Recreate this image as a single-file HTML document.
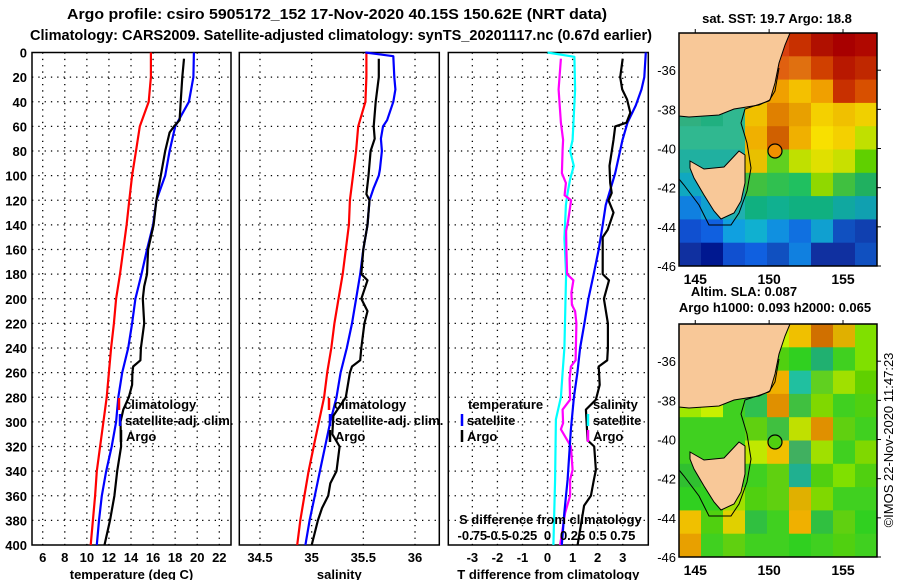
<!DOCTYPE html>
<html><head><meta charset="utf-8"><style>
html,body{margin:0;padding:0;background:#fff;}
svg{display:block;font-family:"Liberation Sans",sans-serif;font-weight:bold;}
</style></head><body>
<svg id="chart" width="900" height="580" viewBox="0 0 900 580" xmlns="http://www.w3.org/2000/svg">
<text x="67" y="19" font-size="14.5" textLength="540" lengthAdjust="spacingAndGlyphs">Argo profile: csiro 5905172_152 17-Nov-2020 40.15S 150.62E (NRT data)</text>
<text x="30" y="40" font-size="14.5" textLength="622" lengthAdjust="spacingAndGlyphs">Climatology: CARS2009. Satellite-adjusted climatology: synTS_20201117.nc (0.67d earlier)</text>
<g id="panels"></g>
<g id="maps"></g>
<text x="777" y="23" font-size="13" text-anchor="middle">sat. SST: 19.7 Argo: 18.8</text>
<text x="744" y="296" font-size="13" text-anchor="middle">Altim. SLA: 0.087</text>
<text x="775" y="312" font-size="13" text-anchor="middle">Argo h1000: 0.093 h2000: 0.065</text>
<text transform="translate(893,440) rotate(-90)" font-size="13" font-weight="normal" text-anchor="middle">©IMOS 22-Nov-2020 11:47:23</text>
</svg>
<script>
// ---- profile data (depth in m) ----
const tDepth = [0,20,40,60,80,100,120,140,160,180,200,220,240,260,280,300,320,340,360,380,400];
const tClim = [15.8,15.8,15.6,14.8,14.45,14.1,13.85,13.6,13.3,13.0,12.65,12.45,12.2,12.0,11.8,11.5,11.2,10.9,10.75,10.55,10.35];
const tSat = [19.7,19.65,19.25,18.0,17.5,17.1,16.3,16.0,15.45,14.95,14.4,14.1,13.75,13.2,12.85,12.65,12.25,11.75,11.35,11.1,10.9];
const argoTDepth = [5,20,40,55,60,65,80,100,120,140,160,180,190,200,220,240,250,255,260,270,280,290,300,320,340,360,380,400];
const tArgo = [18.8,18.65,18.5,18.4,17.9,17.5,17.1,16.7,16.3,16.05,15.55,15.45,15.2,15.07,15.2,14.9,14.85,14.2,14.13,14.1,13.8,13.3,13.05,13.1,12.75,12.5,12.1,11.6];
const sClim = [35.53,35.53,35.52,35.45,35.43,35.40,35.37,35.36,35.33,35.30,35.26,35.22,35.19,35.15,35.12,35.07,35.02,34.97,34.93,34.89,34.86];
const sSatDepth = [0,3,20,30,40,55,60,70,80,95,100,110,120,140,160,180,200,220,240,260,280,300,320,340,360,380,400];
const sSat = [35.52,35.79,35.80,35.81,35.79,35.73,35.69,35.67,35.68,35.66,35.65,35.60,35.56,35.54,35.50,35.47,35.43,35.39,35.34,35.28,35.24,35.18,35.13,35.08,35.03,34.98,34.94];
const argoSDepth = [5,20,40,60,70,80,100,115,120,140,160,180,185,200,210,220,240,250,255,260,280,295,310,320,340,350,360,370,380,400];
const sArgo = [35.65,35.65,35.62,35.60,35.61,35.57,35.55,35.53,35.56,35.54,35.50,35.48,35.54,35.48,35.54,35.51,35.48,35.47,35.39,35.37,35.33,35.21,35.2,35.27,35.24,35.18,35.16,35.1,35.06,35.0];
const dTSatDepth = [0,20,30,43,57,71,98,124,140,160,180,200,220,240,260,280,306,347,374,400];
const dTSat = [3.92,3.86,3.75,3.52,3.19,2.99,2.7,2.32,2.2,2.04,1.84,1.63,1.47,1.3,1.19,1.05,0.93,0.8,0.67,0.57];
const dTArgoDepth = [5,20,30,38,49,57,60,71,92,106,114,120,130,144,150,180,185,200,220,240,250,255,270,282,290,315,320,339,347,360,368,400];
const dTArgo = [3.0,2.9,2.98,3.17,3.3,3.15,2.7,2.63,2.47,2.5,2.56,2.43,2.63,2.4,2.2,2.2,2.45,2.25,2.41,2.41,2.38,2.04,2.08,1.93,1.53,1.6,1.86,1.93,1.85,1.73,1.46,1.2];
const dSSatDepth = [0,3.5,30,71,80,92,103,114,124,151,180,240,260,280,298,347,400];
const dSSat = [0,0.268,0.275,0.25,0.225,0.262,0.225,0.2,0.183,0.168,0.185,0.168,0.15,0.133,0.083,0.075,0.058];
const dSArgoDepth = [5,30,57,71,79,98,106,116,120,138,145,160,180,185,195,205,210,220,250,255,265,282,290,301,306,320,339,347,360,374,400];
const dSArgo = [0.133,0.11,0.133,0.155,0.15,0.143,0.183,0.17,0.235,0.203,0.185,0.188,0.195,0.258,0.238,0.243,0.275,0.288,0.28,0.233,0.22,0.225,0.15,0.155,0.133,0.233,0.25,0.225,0.225,0.175,0.125];
const depthTicks = [0,20,40,60,80,100,120,140,160,180,200,220,240,260,280,300,320,340,360,380,400];
const tTicks = [6,8,10,12,14,16,18,20,22];
const sTicks = [34.5,35,35.5,36];
const dTTicks = [-3,-2,-1,0,1,2,3];
const dSTicks = [-0.75,-0.5,-0.25,0,0.25,0.5,0.75];
const dSTickLabels = ["-0.75","-0.5","-0.25","0","0.25","0.5","0.75"];

const NS = "http://www.w3.org/2000/svg";
const Y0 = 52.5, Y1 = 545;
function yScale(d){ return Y0 + (d/400)*(Y1-Y0); }
function mk(tag, attrs, parent){ const e=document.createElementNS(NS,tag); for(const k in attrs) e.setAttribute(k,attrs[k]); parent.appendChild(e); return e; }
function xs(p){ return v => p.x0 + (v-p.min)/(p.max-p.min)*(p.x1-p.x0); }

const panels = document.getElementById('panels');
const P1 = {x0:32,x1:231,min:5.03,max:23.06,name:'temperature'};
const P2 = {x0:239.3,x1:439.3,min:34.3,max:36.235,name:'salinity'};
const P3 = {x0:448.3,x1:648.3,min:-3.96,max:4.02,name:'difference'};

function frame(p, ticks, labels, title){
  const g = mk('g',{},panels);
  
  
  const x = xs(p);
  depthTicks.forEach(d=>{
    if(d===0||d===400) return;
    const l = mk('line',{x1:p.x0,x2:p.x1,y1:yScale(d),y2:yScale(d),stroke:'#000','stroke-width':1.3,'stroke-dasharray':'1.3 5'},g);
    
    
  });
  ticks.forEach((t,i)=>{
    const l = mk('line',{x1:x(t),x2:x(t),y1:Y0,y2:Y1,stroke:'#000','stroke-width':1.3,'stroke-dasharray':'1.3 5'},g);
    
    
    const tx = mk('text',{x:x(t),y:562,'font-size':13,'text-anchor':'middle'},g);
    tx.textContent = labels[i];
    
    
  });
  const r = mk('rect',{x:p.x0,y:Y0,width:p.x1-p.x0,height:Y1-Y0,fill:'none',stroke:'#000','stroke-width':1.5},g);
  
  
  const tt = mk('text',{x:(p.x0+p.x1)/2,y:579,'font-size':13,'text-anchor':'middle'},g);
  tt.textContent = title;
  
  
  return g;
}
function series(p, g, depths, vals, color, name, scale){
  const x = xs(p);
  const pts = depths.map((d,i)=> x(vals[i]*(scale||1)).toFixed(1)+','+yScale(d).toFixed(1)).join(' ');
  const pl = mk('polyline',{points:pts,fill:'none',stroke:color,'stroke-width':2.2,'stroke-linejoin':'round'},g);
  
  
}
function legendItem(g, x, y, color, label, nm){
  if(color){
    const b = mk('line',{x1:x,x2:x,y1:y-11,y2:y+1,stroke:color,'stroke-width':2.5},g);
    
    
  }
  const t = mk('text',{x:x+5,y:y,'font-size':13},g);
  t.textContent = label;
  
  
}

// Panel 1
const g1 = frame(P1, tTicks, tTicks.map(String), 'temperature (deg C)');
depthTicks.forEach(d=>{
  const t = mk('text',{x:27,y:yScale(d)+5,'font-size':13,'text-anchor':'end'},g1);
  t.textContent = d;
  
  
});
series(P1,g1,tDepth,tClim,'#ff0000','temp-climatology-line');
series(P1,g1,tDepth,tSat,'#0000ff','temp-satellite-adj-line');
series(P1,g1,argoTDepth,tArgo,'#000000','temp-argo-line');
legendItem(g1,119,409,'#ff0000','climatology','legend-climatology');
legendItem(g1,120,425,'#0000ff','satellite-adj. clim.','legend-satellite-adj');
legendItem(g1,121,441,'#000000','Argo','legend-argo');

// Panel 2
const g2 = frame(P2, sTicks, sTicks.map(String), 'salinity');
series(P2,g2,tDepth,sClim,'#ff0000','sal-climatology-line');
series(P2,g2,sSatDepth,sSat,'#0000ff','sal-satellite-adj-line');
series(P2,g2,argoSDepth,sArgo,'#000000','sal-argo-line');
legendItem(g2,329,409,'#ff0000','climatology','legend-climatology');
legendItem(g2,330,425,'#0000ff','satellite-adj. clim.','legend-satellite-adj');
legendItem(g2,330,441,'#000000','Argo','legend-argo');

// Panel 3
const g3 = frame(P3, dTTicks, dTTicks.map(String), 'T difference from climatology');
series(P3,g3,dSSatDepth,dSSat,'#00ffff','dsal-satellite-line',4);
series(P3,g3,dSArgoDepth,dSArgo,'#ff00ff','dsal-argo-line',4);
series(P3,g3,dTSatDepth,dTSat,'#0000ff','dtemp-satellite-line');
series(P3,g3,dTArgoDepth,dTArgo,'#000000','dtemp-argo-line');
legendItem(g3,463,409,null,'temperature','legend-temperature-header');
legendItem(g3,462,425,'#0000ff','satellite','legend-temp-satellite');
legendItem(g3,462,441,'#000000','Argo','legend-temp-argo');
legendItem(g3,588,409,null,'salinity','legend-salinity-header');
legendItem(g3,588,425,'#00ffff','satellite','legend-sal-satellite');
legendItem(g3,588,441,'#ff00ff','Argo','legend-sal-argo');
const sdt = mk('text',{x:459,y:524,'font-size':13},g3);
sdt.textContent = 'S difference from climatology';


const xd = xs(P3);
dSTicks.forEach((s,i)=>{
  const t = mk('text',{x:xd(s*4),y:540,'font-size':13,'text-anchor':'middle'},g3);
  t.textContent = dSTickLabels[i];
  
  
});

// ---- maps ----
const sstCells = [
 ['#f8c898','#f8c898','#f8c898','#f8c898','#d84010','#c83000','#b01000','#a80000','#b00800'],
 ['#f8c898','#f8c898','#f8c898','#f8c898','#e06010','#e07010','#d04000','#b81800','#c02800'],
 ['#f8c898','#f8c898','#f8c898','#f0b000','#f0a000','#f4c000','#f0a000','#c83000','#d85000'],
 ['#30b080','#20b080','#30b890','#f0c000','#e08000','#e8a000','#f4d000','#f0c000','#f0d000'],
 ['#30b890','#30b890','#30b890','#f0b000','#d06000','#f0b000','#f8e000','#f4d000','#c0e000'],
 ['#20b0a0','#20b0a0','#20b0a0','#e8c000','#60d020','#c0e000','#e0e000','#c8e000','#60d000'],
 ['#10a8c0','#20b0a0','#20b0a0','#40c040','#30c050','#20c060','#90d800','#40c040','#20b060'],
 ['#1080e0','#10a0d0','#20b0b0','#10b080','#10b090','#10b080','#10b080','#10a8a0','#10a0b0'],
 ['#1050d0','#1060e0','#10a0e0','#10b0d0','#1090e0','#1070e0','#10a0d0','#1050c0','#1040b0'],
 ['#1030a0','#001890','#1050d0','#1060e0','#1050c0','#1080e0','#1030a0','#1030a0','#1050c0']];
const slaCells = [
 ['#f8c898','#f8c898','#f8c898','#f8c898','#c8f000','#f0c000','#d07000','#e0b000','#80e000'],
 ['#f8c898','#f8c898','#f8c898','#c0f000','#50d010','#30d020','#20b070','#40d020','#80e000'],
 ['#f8c898','#f8c898','#c0f000','#c0f000','#f0b000','#20c0a0','#60d020','#a0e000','#60d000'],
 ['#a0e800','#c8f000','#40d020','#30c050','#e09000','#40c040','#80d800','#40d020','#50d010'],
 ['#40d020','#40d020','#40d020','#60d010','#40c040','#c0e000','#e09000','#60d010','#40d020'],
 ['#40d020','#40d020','#40d020','#c0e800','#f0c000','#40b060','#a0e000','#40d020','#80d800'],
 ['#30c030','#40d020','#40d020','#40d020','#60d010','#20b090','#50d010','#80e000','#50d010'],
 ['#30d020','#30d020','#a0e000','#50d010','#60d010','#e0b000','#80d800','#40d020','#40d020'],
 ['#f0c000','#50d010','#e0d000','#30c040','#40d020','#f0b000','#30c040','#60d010','#30d020'],
 ['#e8a000','#40d020','#60d010','#40d020','#40d020','#30d020','#40d020','#50d010','#40d020']];
const mapsG = document.getElementById('maps');
function drawMap(ox, oy, cells, name, markerFill){
  const W=198, H=233;
  const g = mk('g',{transform:`translate(${ox},${oy})`},mapsG);
  
  
  const cw=W/9, ch=H/10;
  cells.forEach((row,r)=>row.forEach((c,k)=>{ mk('rect',{x:k*cw,y:r*ch,width:cw+0.5,height:ch+0.5,fill:c},g); }));
  const land = mk('polygon',{points:'0,0 111,0 106,12 100,30 96,50 91,67 80,72 55,76 40,82 25,83 10,84 0,83',fill:'#f8c898',stroke:'#000','stroke-width':1},g);
  
  
  const tas = mk('polygon',{points:'11,128 25,136 45,134 60,118 66,122 66,150 62,168 55,180 42,186 35,178 25,162 15,145 11,135',fill:'#f8c898',stroke:'#000','stroke-width':1},g);
  
  
  mk('polyline',{points:'100,35 96,58 90,68 66,76 62,90 68,110 72,135 68,158 60,180 52,192 30,192 20,172 5,152 0,146',fill:'none',stroke:'#000','stroke-width':1},g);
  const m = mk('circle',{cx:96,cy:118,r:7,fill:markerFill,stroke:'#000','stroke-width':1.2},g);
  
  
  mk('rect',{x:0,y:0,width:W,height:H,fill:'none',stroke:'#000','stroke-width':1.5},g);
  const lat = [-36,-38,-40,-42,-44,-46];
  lat.forEach(v=>{
    const y = (v+34.1)/(-46+34.1)*H;
    const t = mk('text',{x:-3,y:y+5,'font-size':13,'text-anchor':'end','font-weight':'normal'},g);
    t.textContent = v;
    
    
    mk('line',{x1:W,x2:W+4,y1:y,y2:y,stroke:'#000'},g);
  });
  [145,150,155].forEach(v=>{
    const x = (v-143.9)/(157.3-143.9)*W;
    const t = mk('text',{x:x,y:H+18,'font-size':14,'text-anchor':'middle'},g);
    t.textContent = v;
    
    
    mk('line',{x1:x,x2:x,y1:-4,y2:0,stroke:'#000'},g);
  });
}
drawMap(679,33,sstCells,'sst-map','#f09000');
drawMap(679,324,slaCells,'sla-map','#50d010');
</script>
</body></html>
